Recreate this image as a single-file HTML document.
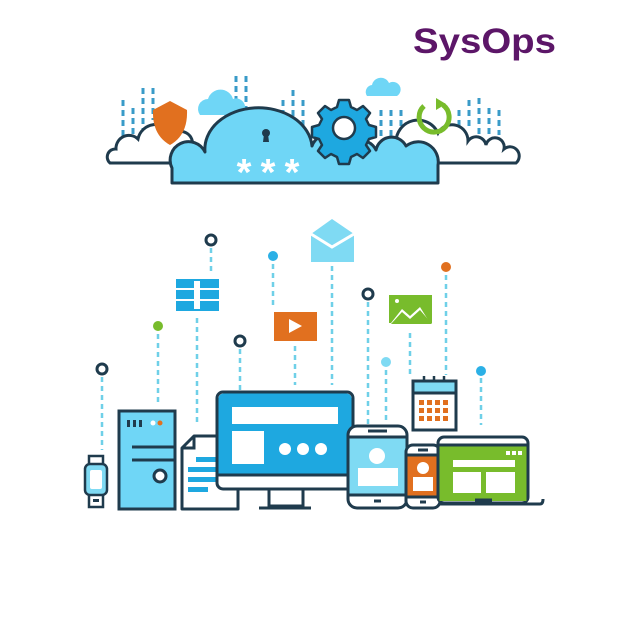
<!DOCTYPE html>
<html><head><meta charset="utf-8"><style>html,body{margin:0;padding:0;background:#fff}svg{display:block}</style></head>
<body>
<svg width="626" height="626" viewBox="0 0 626 626" xmlns="http://www.w3.org/2000/svg">
<rect width="626" height="626" fill="#fff"/>
<text x="413" y="53" font-family="Liberation Sans, sans-serif" font-weight="bold" font-size="35" fill="#5c1668" textLength="143" lengthAdjust="spacingAndGlyphs">SysOps</text>

<g stroke="#3a9bc8" stroke-width="3" stroke-dasharray="6,4">
<line x1="123" y1="100" x2="123" y2="140"/><line x1="133" y1="108" x2="133" y2="140"/><line x1="143" y1="88" x2="143" y2="140"/><line x1="153" y1="88" x2="153" y2="120"/>
<line x1="226" y1="100" x2="226" y2="140"/><line x1="236" y1="76" x2="236" y2="130"/><line x1="246" y1="76" x2="246" y2="120"/>
<line x1="283" y1="100" x2="283" y2="130"/><line x1="293" y1="90" x2="293" y2="130"/><line x1="303" y1="100" x2="303" y2="130"/>
<line x1="381" y1="110" x2="381" y2="140"/><line x1="391" y1="110" x2="391" y2="140"/><line x1="401" y1="110" x2="401" y2="140"/>
<line x1="459" y1="110" x2="459" y2="140"/><line x1="469" y1="100" x2="469" y2="130"/><line x1="479" y1="98" x2="479" y2="135"/><line x1="489" y1="108" x2="489" y2="135"/><line x1="499" y1="110" x2="499" y2="135"/>
</g>
<path d="M200 115 a10 10 0 0 1 8 -16 a13 13 0 0 1 25 0 a9 9 0 0 1 8 16 z" fill="#6fd6f6"/>
<path d="M367 96 a7 7 0 0 1 5 -11 a9 9 0 0 1 17 -2 a7 7 0 0 1 8 13 z" fill="#6fd6f6"/>
<path d="M110 163 a8 8 0 0 1 6 -14 a13 13 0 0 1 22 -10 a18 18 0 0 1 34 -4 a12 12 0 0 1 20 12 l0 16 z" fill="#fff" stroke="#1f3b4d" stroke-width="3"/>
<path d="M380 163 a16 16 0 0 1 16 -20 a22 22 0 0 1 42 -10 a16 16 0 0 1 30 8 a10 10 0 0 1 18 4 a9 9 0 0 1 18 4 a9 9 0 0 1 12 14 z" fill="#fff" stroke="#1f3b4d" stroke-width="3"/>
<path d="M170 101 l17 9 q1 25 -17 35 q-18 -10 -17 -35 z" fill="#e1701f"/>
<!-- main cloud -->
<path d="M172 183 L172 168 A16 16 0 0 1 205 152 A52 40 0 0 1 312 146 A15 15 0 0 1 342 156 A18 18 0 0 1 376 150 A16 16 0 0 1 406 146 A20 20 0 0 1 438 165 L438 183 Z" fill="#6fd6f6" stroke="#1f3b4d" stroke-width="3" stroke-linejoin="round"/>
<!-- gear -->
<g transform="translate(344,128)">
<path d="M-5 -28 h10 l2 7 l6 3 l6 -4 l7 7 l-4 6 l3 6 l7 2 v10 l-7 2 l-3 6 l4 6 l-7 7 l-6 -4 l-6 3 l-2 7 h-10 l-2 -7 l-6 -3 l-6 4 l-7 -7 l4 -6 l-3 -6 l-7 -2 v-10 l7 -2 l3 -6 l-4 -6 l7 -7 l6 4 l6 -3 z" fill="#1ea8e0" stroke="#1f3b4d" stroke-width="2.5" stroke-linejoin="round"/>
<circle r="11" fill="#fff" stroke="#1f3b4d" stroke-width="2.5"/>
</g>
<path d="M424 106 a15 15 0 1 0 19 -1" fill="none" stroke="#78bc2c" stroke-width="5"/>
<path d="M436 98 l10 6 l-10 6 z" fill="#78bc2c"/>
<circle cx="266" cy="133" r="4" fill="#1f3b4d"/><path d="M264 134 h4 l1 8 h-6 z" fill="#1f3b4d"/>
<g fill="#fff" font-family="Liberation Sans, sans-serif" font-weight="bold" font-size="38" text-anchor="middle">
<text x="244" y="185">*</text><text x="268" y="185">*</text><text x="292" y="185">*</text>
</g>

<g stroke="#6fd0e8" stroke-width="2.5" stroke-dasharray="5,4">
<line x1="102" y1="377" x2="102" y2="450"/>
<line x1="158" y1="334" x2="158" y2="402"/>
<line x1="197" y1="318" x2="197" y2="425"/>
<line x1="240" y1="349" x2="240" y2="425"/>
<line x1="273" y1="264" x2="273" y2="305"/>
<line x1="295" y1="346" x2="295" y2="385"/>
<line x1="332" y1="266" x2="332" y2="385"/>
<line x1="211" y1="248" x2="211" y2="272"/>
<line x1="368" y1="302" x2="368" y2="425"/>
<line x1="386" y1="370" x2="386" y2="420"/>
<line x1="410" y1="333" x2="410" y2="375"/>
<line x1="446" y1="275" x2="446" y2="375"/>
<line x1="481" y1="378" x2="481" y2="425"/>
</g>
<g fill="#fff" stroke="#1f3b4d" stroke-width="3">
<circle cx="102" cy="369" r="5"/><circle cx="211" cy="240" r="5"/><circle cx="240" cy="341" r="5"/><circle cx="368" cy="294" r="5"/>
</g>
<circle cx="158" cy="326" r="5" fill="#78bc2c"/>
<circle cx="273" cy="256" r="5" fill="#2bb0e6"/>
<circle cx="386" cy="362" r="5" fill="#7fdaf3"/>
<circle cx="446" cy="267" r="5" fill="#e1701f"/>
<circle cx="481" cy="371" r="5" fill="#2bb0e6"/>
<rect x="176" y="279" width="43" height="32" fill="#1ea8e0"/>
<g stroke="#fff" stroke-width="2"><line x1="176" y1="289" x2="219" y2="289"/><line x1="176" y1="300" x2="219" y2="300"/></g>
<rect x="194" y="281" width="6" height="28" fill="#fff"/>
<rect x="274" y="312" width="43" height="29" fill="#e1701f"/>
<path d="M289 319 l13 7 l-13 7 z" fill="#fff"/>
<path d="M311 234 l21 -15 l22 15 v28 h-43 z" fill="#7fdaf3"/>
<path d="M311 234 l21 13 l22 -13" fill="none" stroke="#fff" stroke-width="3"/>
<rect x="389" y="295" width="43" height="28" fill="#78bc2c"/>
<path d="M391 323 l11 -14 l8 7 l10 -9 l10 16 z" fill="#fff"/>
<path d="M391 324 l11 -12 l8 7 l10 -9 l12 14 z" fill="#78bc2c"/>
<circle cx="397" cy="301" r="2" fill="#fff"/>

<rect x="89" y="456" width="14" height="10" fill="#fff" stroke="#1f3b4d" stroke-width="2.5"/>
<rect x="89" y="494" width="14" height="13" fill="#fff" stroke="#1f3b4d" stroke-width="2.5"/>
<rect x="85" y="464" width="22" height="31" rx="5" fill="#7fdaf3" stroke="#1f3b4d" stroke-width="2.5"/>
<rect x="90" y="470" width="12" height="19" rx="2" fill="#fff"/>
<rect x="93" y="499" width="6" height="3" fill="#1f3b4d"/>
<rect x="119" y="411" width="56" height="98" fill="#6fd6f6" stroke="#1f3b4d" stroke-width="3"/>
<g fill="#1f3b4d"><rect x="127" y="420" width="3" height="7"/><rect x="133" y="420" width="3" height="7"/><rect x="139" y="420" width="3" height="7"/></g>
<circle cx="153" cy="423" r="2.5" fill="#fff"/><circle cx="160" cy="423" r="2.5" fill="#e1701f"/>
<g stroke="#1f3b4d" stroke-width="3"><line x1="132" y1="447" x2="175" y2="447"/><line x1="132" y1="460" x2="175" y2="460"/></g>
<circle cx="160" cy="476" r="6" fill="#fff" stroke="#1f3b4d" stroke-width="3"/>
<path d="M182 509 v-61 l12 -12 h44 v73 z" fill="#fff" stroke="#1f3b4d" stroke-width="3" stroke-linejoin="round"/>
<path d="M182 448 h12 v-12" fill="none" stroke="#1f3b4d" stroke-width="3"/>
<g fill="#1ea8e0"><rect x="196" y="457" width="30" height="5"/><rect x="188" y="467" width="38" height="5"/><rect x="188" y="477" width="38" height="5"/><rect x="188" y="487" width="20" height="5"/></g>
<rect x="269" y="488" width="34" height="18" fill="#fff" stroke="#1f3b4d" stroke-width="3"/>
<line x1="259" y1="508" x2="311" y2="508" stroke="#1f3b4d" stroke-width="3"/>
<rect x="217" y="392" width="136" height="97" rx="6" fill="#fff" stroke="#1f3b4d" stroke-width="3"/>
<path d="M218.5 398 a5 5 0 0 1 5 -4.5 h123 a5 5 0 0 1 5 4.5 v76 h-133 z" fill="#1ea8e0"/>
<line x1="218" y1="475" x2="352" y2="475" stroke="#1f3b4d" stroke-width="3"/>
<rect x="232" y="407" width="106" height="17" fill="#fff"/>
<rect x="232" y="431" width="32" height="33" fill="#fff"/>
<circle cx="285" cy="449" r="6" fill="#fff"/><circle cx="303" cy="449" r="6" fill="#fff"/><circle cx="321" cy="449" r="6" fill="#fff"/>
<rect x="413" y="381" width="43" height="49" fill="#fff" stroke="#1f3b4d" stroke-width="3"/>
<rect x="414.5" y="382.5" width="40" height="10" fill="#7fdaf3"/>
<line x1="413" y1="393" x2="456" y2="393" stroke="#1f3b4d" stroke-width="3"/>
<g stroke="#1f3b4d" stroke-width="2.5"><line x1="424" y1="376" x2="424" y2="382"/><line x1="434" y1="376" x2="434" y2="382"/><line x1="444" y1="376" x2="444" y2="382"/></g>
<g fill="#e1701f">
<rect x="419" y="400" width="5" height="5"/><rect x="427" y="400" width="5" height="5"/><rect x="435" y="400" width="5" height="5"/><rect x="443" y="400" width="5" height="5"/>
<rect x="419" y="408" width="5" height="5"/><rect x="427" y="408" width="5" height="5"/><rect x="435" y="408" width="5" height="5"/><rect x="443" y="408" width="5" height="5"/>
<rect x="419" y="416" width="5" height="5"/><rect x="427" y="416" width="5" height="5"/><rect x="435" y="416" width="5" height="5"/><rect x="443" y="416" width="5" height="5"/>
</g>
<rect x="348" y="426" width="59" height="82" rx="9" fill="#fff" stroke="#1f3b4d" stroke-width="3"/>
<rect x="349.5" y="437" width="56" height="58" fill="#7fdaf3"/>
<g stroke="#1f3b4d" stroke-width="3"><line x1="348" y1="437" x2="407" y2="437"/><line x1="348" y1="495" x2="407" y2="495"/><line x1="368" y1="431" x2="387" y2="431"/><line x1="374" y1="501" x2="381" y2="501"/></g>
<circle cx="377" cy="456" r="8" fill="#fff"/>
<rect x="358" y="468" width="40" height="18" fill="#fff"/>
<rect x="406" y="445" width="34" height="63" rx="7" fill="#fff" stroke="#1f3b4d" stroke-width="3"/>
<rect x="407.5" y="455" width="31" height="42" fill="#e1701f"/>
<g stroke="#1f3b4d" stroke-width="3"><line x1="406" y1="455" x2="440" y2="455"/><line x1="406" y1="497" x2="440" y2="497"/><line x1="418" y1="450" x2="428" y2="450"/><line x1="420" y1="502" x2="426" y2="502"/></g>
<circle cx="423" cy="468" r="6" fill="#fff"/>
<rect x="413" y="477" width="20" height="14" fill="#fff"/>
<rect x="438" y="437" width="90" height="66" rx="6" fill="#fff" stroke="#1f3b4d" stroke-width="3"/>
<rect x="439.5" y="445" width="87" height="56" fill="#78bc2c"/>
<line x1="438" y1="445" x2="528" y2="445" stroke="#1f3b4d" stroke-width="3"/>
<path d="M440 504 h100 q3 0 3 -5" fill="none" stroke="#1f3b4d" stroke-width="3"/>
<line x1="475" y1="500" x2="492" y2="500" stroke="#1f3b4d" stroke-width="3"/>
<g fill="#fff"><rect x="506" y="451" width="4" height="4"/><rect x="512" y="451" width="4" height="4"/><rect x="518" y="451" width="4" height="4"/>
<rect x="453" y="460" width="62" height="7"/><rect x="453" y="472" width="28" height="21"/><rect x="486" y="472" width="29" height="21"/></g>
</svg>
</body></html>
